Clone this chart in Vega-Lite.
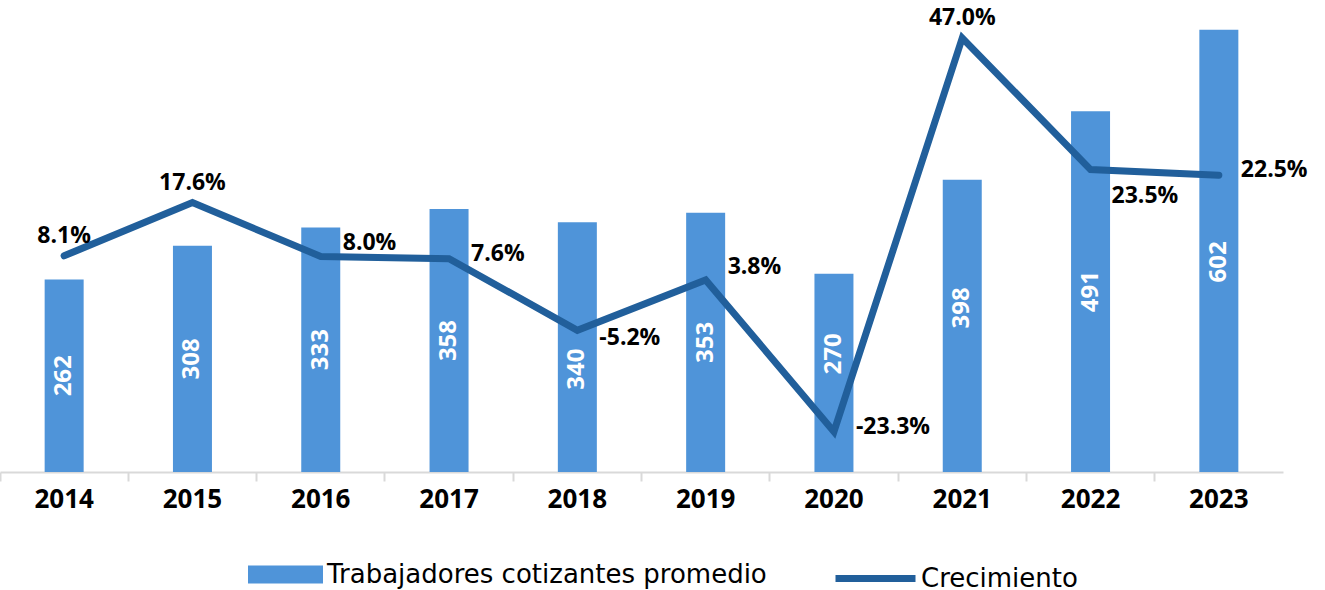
{
  "$schema": "https://vega.github.io/schema/vega-lite/v6.json",
  "width": 1283,
  "height": 462,
  "padding": {"left": 0, "top": 10, "right": 42, "bottom": 118},
  "autosize": {"type": "none"},
  "background": "white",
  "config": {
    "view": {"stroke": null},
    "font": "Open Sans",
    "locale": {"number": {"decimal": ".", "thousands": ",", "grouping": [3], "currency": ["$", ""], "minus": "-"}}
  },
  "data": {
    "values": [
      {"year": "2014", "trab": 262, "crec": 0.081},
      {"year": "2015", "trab": 308, "crec": 0.176},
      {"year": "2016", "trab": 333, "crec": 0.080},
      {"year": "2017", "trab": 358, "crec": 0.076},
      {"year": "2018", "trab": 340, "crec": -0.052},
      {"year": "2019", "trab": 353, "crec": 0.038},
      {"year": "2020", "trab": 270, "crec": -0.233},
      {"year": "2021", "trab": 398, "crec": 0.470},
      {"year": "2022", "trab": 491, "crec": 0.235},
      {"year": "2023", "trab": 602, "crec": 0.225}
    ]
  },
  "encoding": {
    "x": {
      "field": "year", "type": "nominal", "title": null,
      "scale": {"paddingInner": 0, "paddingOuter": 0},
      "axis": {
        "labelAngle": 0, "labelFont": "Open Sans", "labelFontSize": 26, "labelFontWeight": "bold",
        "labelColor": "#000000", "labelPadding": 5,
        "domainColor": "#D9D9D9", "domainWidth": 2,
        "tickColor": "#D9D9D9", "tickWidth": 2, "tickSize": 9, "bandPosition": 0,
        "grid": false
      }
    }
  },
  "layer": [
    {
      "mark": {"type": "bar", "width": 39},
      "encoding": {
        "y": {"field": "trab", "type": "quantitative", "scale": {"domain": [0, 629]}, "axis": null},
        "fill": {
          "datum": "Trabajadores cotizantes promedio",
          "scale": {"range": ["#4F94D9"]},
          "legend": {
            "title": null, "orient": "none", "legendX": 248, "legendY": 527, "padding": 0,
            "symbolType": "M-1,-0.24H1V0.24H-1Z", "symbolSize": 5625, "symbolStrokeWidth": 0,
            "labelFont": "DejaVu Sans", "labelFontSize": 26, "labelColor": "#000000", "labelOffset": 4,
            "labelLimit": 700
          }
        }
      }
    },
    {
      "transform": [{"filter": {"field": "year", "oneOf": ["2014", "2015", "2016", "2017", "2019", "2022"]}}],
      "mark": {"type": "text", "angle": 270, "align": "center", "baseline": "middle", "color": "white", "fontSize": 24, "fontWeight": "bold", "font": "Open Sans"},
      "encoding": {
        "y": {"field": "trab", "type": "quantitative", "scale": {"domain": [0, 1258]}, "axis": null},
        "text": {"field": "trab", "type": "quantitative"}
      }
    },
    {
      "transform": [{"filter": {"field": "year", "oneOf": ["2018"]}}],
      "mark": {"type": "text", "angle": 270, "align": "center", "baseline": "middle", "color": "white", "fontSize": 24, "fontWeight": "bold", "font": "Open Sans", "dx": -22},
      "encoding": {
        "y": {"field": "trab", "type": "quantitative", "scale": {"domain": [0, 1258]}, "axis": null},
        "text": {"field": "trab", "type": "quantitative"}
      }
    },
    {
      "transform": [{"filter": {"field": "year", "oneOf": ["2020"]}}],
      "mark": {"type": "text", "angle": 270, "align": "center", "baseline": "middle", "color": "white", "fontSize": 24, "fontWeight": "bold", "font": "Open Sans", "dx": 19},
      "encoding": {
        "y": {"field": "trab", "type": "quantitative", "scale": {"domain": [0, 1258]}, "axis": null},
        "text": {"field": "trab", "type": "quantitative"}
      }
    },
    {
      "transform": [{"filter": {"field": "year", "oneOf": ["2021"]}}],
      "mark": {"type": "text", "angle": 270, "align": "center", "baseline": "middle", "color": "white", "fontSize": 24, "fontWeight": "bold", "font": "Open Sans", "dx": 18},
      "encoding": {
        "y": {"field": "trab", "type": "quantitative", "scale": {"domain": [0, 1258]}, "axis": null},
        "text": {"field": "trab", "type": "quantitative"}
      }
    },
    {
      "transform": [{"filter": {"field": "year", "oneOf": ["2023"]}}],
      "mark": {"type": "text", "angle": 270, "align": "center", "baseline": "middle", "color": "white", "fontSize": 24, "fontWeight": "bold", "font": "Open Sans", "dx": -11},
      "encoding": {
        "y": {"field": "trab", "type": "quantitative", "scale": {"domain": [0, 1258]}, "axis": null},
        "text": {"field": "trab", "type": "quantitative"}
      }
    },
    {
      "mark": {"type": "line", "strokeWidth": 7, "strokeCap": "round", "strokeJoin": "miter"},
      "encoding": {
        "y": {"field": "crec", "type": "quantitative", "scale": {"domain": [-0.305, 0.52]}, "axis": null},
        "stroke": {
          "datum": "Crecimiento",
          "scale": {"range": ["#215F9B"]},
          "legend": {
            "title": null, "orient": "none", "legendX": 832, "legendY": 525, "padding": 0,
            "symbolType": "M-1,0H1", "symbolSize": 6400, "symbolStrokeWidth": 7,
            "labelFont": "DejaVu Sans", "labelFontSize": 26, "labelColor": "#000000", "labelOffset": 2,
            "labelLimit": 700
          }
        }
      }
    },
    {
      "transform": [{"filter": {"field": "year", "oneOf": ["2014", "2015", "2021"]}}],
      "mark": {"type": "text", "align": "center", "baseline": "middle", "dy": -20, "fontSize": 23, "fontWeight": "bold", "font": "Open Sans", "color": "#000000"},
      "encoding": {
        "y": {"field": "crec", "type": "quantitative", "scale": {"domain": [-0.305, 0.52]}, "axis": null},
        "text": {"field": "crec", "type": "quantitative", "format": ".1%"}
      }
    },
    {
      "transform": [{"filter": {"field": "year", "oneOf": ["2016", "2019"]}}],
      "mark": {"type": "text", "align": "left", "baseline": "middle", "dx": 22, "dy": -13, "fontSize": 23, "fontWeight": "bold", "font": "Open Sans", "color": "#000000"},
      "encoding": {
        "y": {"field": "crec", "type": "quantitative", "scale": {"domain": [-0.305, 0.52]}, "axis": null},
        "text": {"field": "crec", "type": "quantitative", "format": ".1%"}
      }
    },
    {
      "transform": [{"filter": {"field": "year", "oneOf": ["2017", "2020", "2023"]}}],
      "mark": {"type": "text", "align": "left", "baseline": "middle", "dx": 22, "dy": -5, "fontSize": 23, "fontWeight": "bold", "font": "Open Sans", "color": "#000000"},
      "encoding": {
        "y": {"field": "crec", "type": "quantitative", "scale": {"domain": [-0.305, 0.52]}, "axis": null},
        "text": {"field": "crec", "type": "quantitative", "format": ".1%"}
      }
    },
    {
      "transform": [{"filter": {"field": "year", "oneOf": ["2018"]}}],
      "mark": {"type": "text", "align": "left", "baseline": "middle", "dx": 22, "dy": 8, "fontSize": 23, "fontWeight": "bold", "font": "Open Sans", "color": "#000000"},
      "encoding": {
        "y": {"field": "crec", "type": "quantitative", "scale": {"domain": [-0.305, 0.52]}, "axis": null},
        "text": {"field": "crec", "type": "quantitative", "format": ".1%"}
      }
    },
    {
      "transform": [{"filter": {"field": "year", "oneOf": ["2022"]}}],
      "mark": {"type": "text", "align": "left", "baseline": "middle", "dx": 21, "dy": 26, "fontSize": 23, "fontWeight": "bold", "font": "Open Sans", "color": "#000000"},
      "encoding": {
        "y": {"field": "crec", "type": "quantitative", "scale": {"domain": [-0.305, 0.52]}, "axis": null},
        "text": {"field": "crec", "type": "quantitative", "format": ".1%"}
      }
    }
  ],
  "resolve": {"scale": {"y": "independent", "fill": "independent", "stroke": "independent"}}
}
